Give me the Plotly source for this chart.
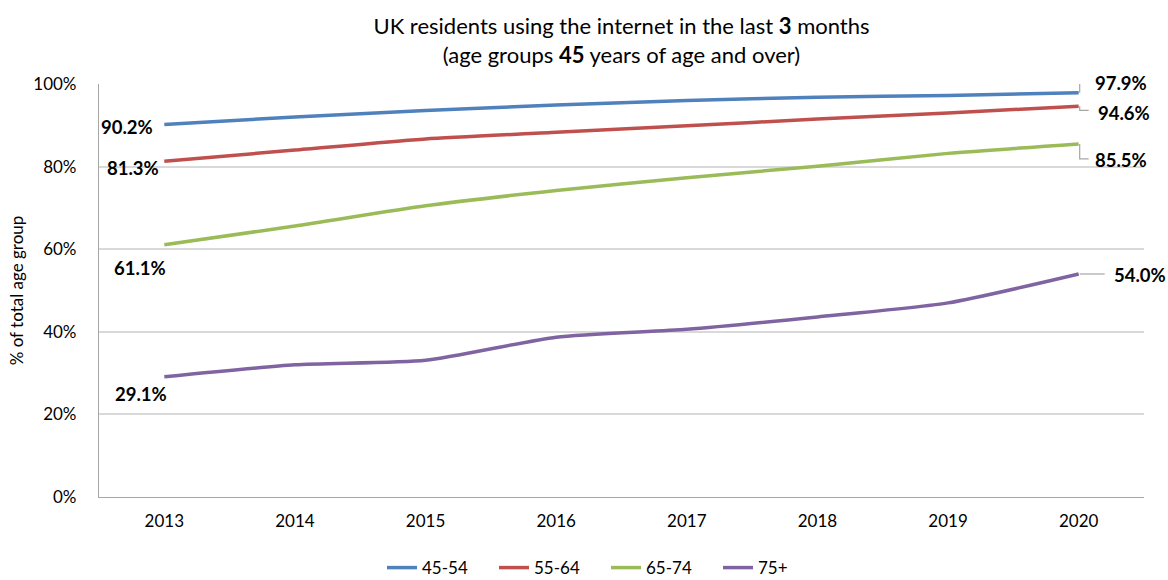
import plotly.graph_objects as go

# Share of each age group that used the internet in the last 3 months (%)
years = ["2013", "2014", "2015", "2016", "2017", "2018", "2019", "2020"]
age_groups = ["45-54", "55-64", "65-74", "75+"]
pct_45_54 = [90.2, 92.0, 93.6, 94.9, 96.0, 96.8, 97.2, 97.9]
pct_55_64 = [81.3, 84.0, 86.7, 88.3, 89.9, 91.5, 93.0, 94.6]
pct_65_74 = [61.1, 65.6, 70.5, 74.2, 77.3, 80.1, 83.2, 85.5]
pct_75_plus = [29.1, 32.0, 33.1, 38.7, 40.6, 43.6, 47.0, 54.0]
colors = ["#4F81BD", "#C0504D", "#9BBB59", "#8064A2"]
series = [pct_45_54, pct_55_64, pct_65_74, pct_75_plus]

title_text = ("UK residents using the internet in the last <b>3</b> months<br>"
              "(age groups <b>45</b> years of age and over)")
y_ticks = [0, 20, 40, 60, 80, 100]
y_tick_text = ["0%", "20%", "40%", "60%", "80%", "100%"]

FONT = "Lato, 'Open Sans', sans-serif"

fig = go.Figure()
for name, vals, col in zip(age_groups, series, colors):
    fig.add_trace(go.Scatter(
        x=years, y=vals, name=name, mode="lines",
        line=dict(color=col, width=3.5, shape="spline", smoothing=0.6),
        hoverinfo="skip",
    ))

# label offsets (pixels) for first and last points of each series
start_shift = [(-9, -3), (-3, -7), (4, -23), (5, -17)]
end_shift = [(14, 10), (17, -7), (14, -16), (33, -1)]
# elbow leader lines from the last point towards its label (pixel paths)
leaders = [
    "M 1 0 L 1 12 L 9 12",
    "M 1 0 L 1 -4 L 10 -4",
    "M 1 0 L 1 -15 L 10 -15",
    "M 1 0 L 26 0",
]
last_idx = len(years) - 1

annotations = []
shapes = []
for i, vals in enumerate(series):
    annotations.append(dict(
        x=0, y=vals[0], xref="x", yref="y", text=f"<b>{vals[0]:.1f}%</b>",
        showarrow=False, xanchor="right", yanchor="middle",
        xshift=start_shift[i][0], yshift=start_shift[i][1],
        font=dict(family=FONT, size=18.5, color="#000000"),
    ))
    annotations.append(dict(
        x=last_idx, y=vals[-1], xref="x", yref="y", text=f"<b>{vals[-1]:.1f}%</b>",
        showarrow=False, xanchor="left", yanchor="middle",
        xshift=end_shift[i][0], yshift=end_shift[i][1],
        font=dict(family=FONT, size=18.5, color="#000000"),
    ))
    shapes.append(dict(
        type="path", xref="x", yref="y",
        xsizemode="pixel", ysizemode="pixel",
        xanchor=last_idx, yanchor=vals[-1],
        path=leaders[i], line=dict(color="#A6A6A6", width=1.2),
    ))

fig.update_layout(
    width=1168, height=580,
    margin=dict(l=99, r=24, t=84, b=83, autoexpand=False),
    paper_bgcolor="white", plot_bgcolor="white",
    font=dict(family=FONT, size=17, color="#000000"),
    title=dict(text=title_text, x=0.5, xanchor="center", xref="paper",
               yref="container", y=1 - 34 / 580, yanchor="middle",
               font=dict(family=FONT, size=22, color="#000000")),
    xaxis=dict(
        type="category", range=[-0.5, 7.5],
        showgrid=False, showline=True, linecolor="#A6A6A6", linewidth=1.2,
        ticks="", tickfont=dict(size=17), ticklabelstandoff=8,
    ),
    yaxis=dict(
        range=[0, 100], tickvals=y_ticks, ticktext=y_tick_text,
        showgrid=True, gridcolor="#D9D9D9", gridwidth=1.5,
        showline=True, linecolor="#A6A6A6", linewidth=1.2,
        zeroline=False, ticks="", tickfont=dict(size=17), ticklabelstandoff=18,
        title=dict(text="% of total age group", font=dict(size=17), standoff=5),
    ),
    legend=dict(orientation="h", x=0.2708, xanchor="left",
                y=-0.172, yanchor="middle",
                font=dict(size=17), itemwidth=30, tracegroupgap=0,
                entrywidth=67, entrywidthmode="pixels"),
    annotations=annotations,
    shapes=shapes,
)

fig.write_html("out.html")
